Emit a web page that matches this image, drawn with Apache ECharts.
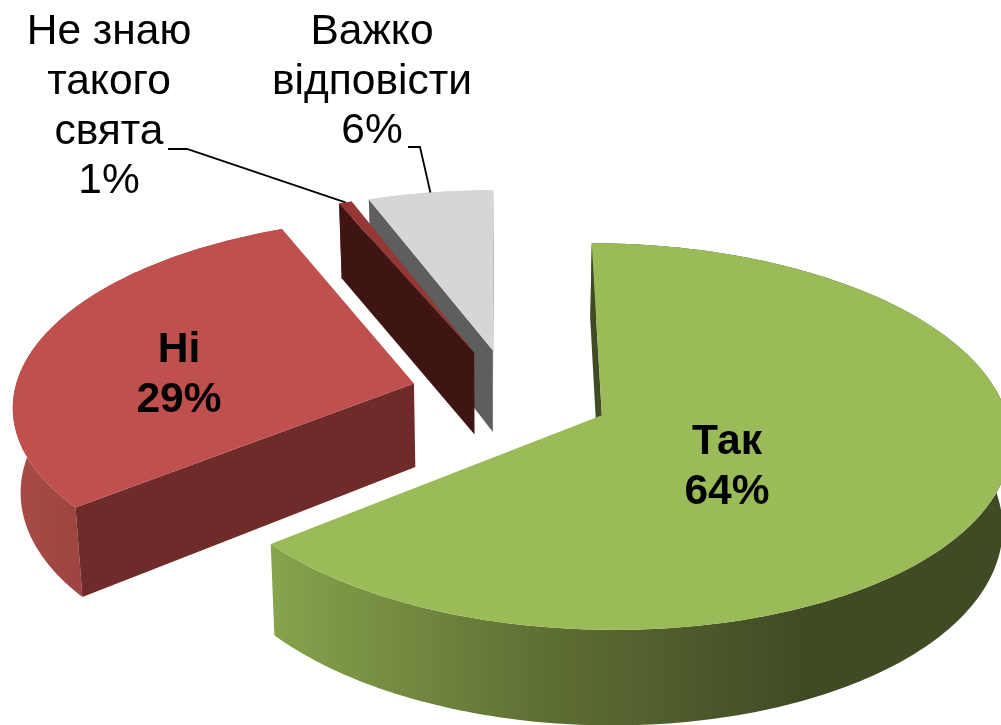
<!DOCTYPE html>
<html>
<head>
<meta charset="utf-8">
<title>Свято</title>
<script src="https://cdn.jsdelivr.net/npm/echarts@6/dist/echarts.min.js"></script>
<style>
  html, body { margin: 0; padding: 0; background: #fff; }
  #chart { width: 1001px; height: 725px; }
</style>
</head>
<body>
<div id="chart"></div>
<script>
// --- données --- //
const categories = ['Так', 'Ні', 'Не знаю\nтакого\nсвята', 'Важко\nвідповісти'];
const percents = [64.2, 29.49, 0.6, 5.71];

// --- couleurs : dessus, parois radiales, paroi extérieure --- //
const topColors = ['#9bbb59', '#c0504d', '#953735', '#d6d6d6'];
const wallColors = ['#404b25', '#6e2b2a', '#3f1513', '#5e5e5e'];
const rimStops = [
  [[0, '#87a34c'], [0.5, '#5f7034'], [1, '#404b25']],
  [[0, '#a84b47'], [1, '#9c4441']],
  [[0, '#953735'], [1, '#953735']],
  [[0, '#d6d6d6'], [1, '#d6d6d6']]
];
const rimRange = [[273, 800], [15, 85], [340, 360], [370, 500]];

// --- position des étiquettes (centre du texte) et lignes de rappel --- //
const labelPos = [[727, 467], [179, 375], [109, 107], [372, 82]];
const labelBold = [true, true, false, false];
const leaderElbow = [null, null, [[168, 149], [187, 149]], [[408, 147], [420, 147]]];

// --- caméra : perspective du camembert 3D --- //
const cam = { vx: 500, vy: -1321, h: 1736, q: 0.11, s: 405, ox: 10.5, oy: 0.1065, depth: 85, shrink: 0.016 };
const explode = 0.25;

function project(x, y, z) {
  // x vers la droite, y vers le fond, z vers le bas (0 = dessus, 1 = dessous)
  const w = 1 / (1 + cam.q * (y + cam.oy));
  return [
    cam.vx + (cam.ox + cam.s * x) * w * (1 - cam.shrink * z),
    cam.vy + cam.h * w + cam.depth * z * w
  ];
}

function area(pts) {
  let a = 0;
  pts.forEach((p, i) => {
    const n = pts[(i + 1) % pts.length];
    a += p[0] * n[1] - n[0] * p[1];
  });
  return a / 2;
}

const total = percents.reduce((a, b) => a + b, 0);
let acc = 0;
const angles = percents.map(v => {
  const a0 = acc / total * 2 * Math.PI;
  acc += v;
  return [a0, acc / total * 2 * Math.PI];
});

// de l'arrière vers l'avant
const paintOrder = [3, 2, 1, 0];

function renderSlice(params, api) {
  const i = api.value(0);
  const [a0, a1] = angles[i];
  const mid = (a0 + a1) / 2;
  const cx = explode * Math.sin(mid);
  const cy = explode * Math.cos(mid);
  const order = paintOrder.indexOf(i) * 10;

  const rim = [];
  const n = Math.max(4, Math.ceil((a1 - a0) / 0.02));
  for (let k = 0; k <= n; k++) {
    const a = a0 + (a1 - a0) * k / n;
    rim.push([cx + Math.sin(a), cy + Math.cos(a)]);
  }
  const top = rim.map(p => project(p[0], p[1], 0));
  const bottom = rim.map(p => project(p[0], p[1], 1));
  const apexTop = project(cx, cy, 0);
  const apexBot = project(cx, cy, 1);

  const children = [];
  const poly = (points, fill, z2) => children.push({
    type: 'polygon', shape: { points }, style: { fill }, z2
  });

  // parois radiales : on ne garde que celles tournées vers la caméra
  const startWall = [apexTop, top[0], bottom[0], apexBot];
  const endWall = [top[n], apexTop, apexBot, bottom[n]];
  if (area(startWall) < 0) poly(startWall, wallColors[i], order + 2);
  if (area(endWall) < 0) poly(endWall, wallColors[i], order + 2);

  // paroi extérieure
  const r = rimRange[i];
  const grad = new echarts.graphic.LinearGradient(r[0], 0, r[1], 0,
    rimStops[i].map(s => ({ offset: s[0], color: s[1] })), true);
  poly(top.concat(bottom.slice().reverse()), grad, order + 1);

  // dessus
  poly([apexTop].concat(top), topColors[i], order + 3);

  // étiquette
  const pos = labelPos[i];
  children.push({
    type: 'text',
    z2: 100,
    style: {
      text: categories[i] + '\n' + Math.round(percents[i]) + '%',
      x: pos[0],
      y: pos[1],
      fill: '#000',
      align: 'center',
      verticalAlign: 'middle',
      lineHeight: 49.7,
      font: (labelBold[i] ? 'bold ' : '') + '42.5px "Liberation Sans", Arial, sans-serif'
    }
  });

  // ligne de rappel vers le bord de la part
  if (leaderElbow[i]) {
    const anchor = project(cx + Math.sin(mid), cy + Math.cos(mid), 0);
    children.push({
      type: 'polyline',
      z2: 90,
      shape: { points: leaderElbow[i].concat([anchor]) },
      style: { fill: null, stroke: '#000', lineWidth: 1.8 }
    });
  }

  return { type: 'group', children };
}

const chart = echarts.init(document.getElementById('chart'), null, { renderer: 'canvas' });
chart.setOption({
  animation: false,
  backgroundColor: '#fff',
  series: [{
    type: 'custom',
    coordinateSystem: 'none',
    silent: true,
    clip: false,
    renderItem: renderSlice,
    data: paintOrder.map(i => [i, percents[i]])
  }]
});
</script>
</body>
</html>
